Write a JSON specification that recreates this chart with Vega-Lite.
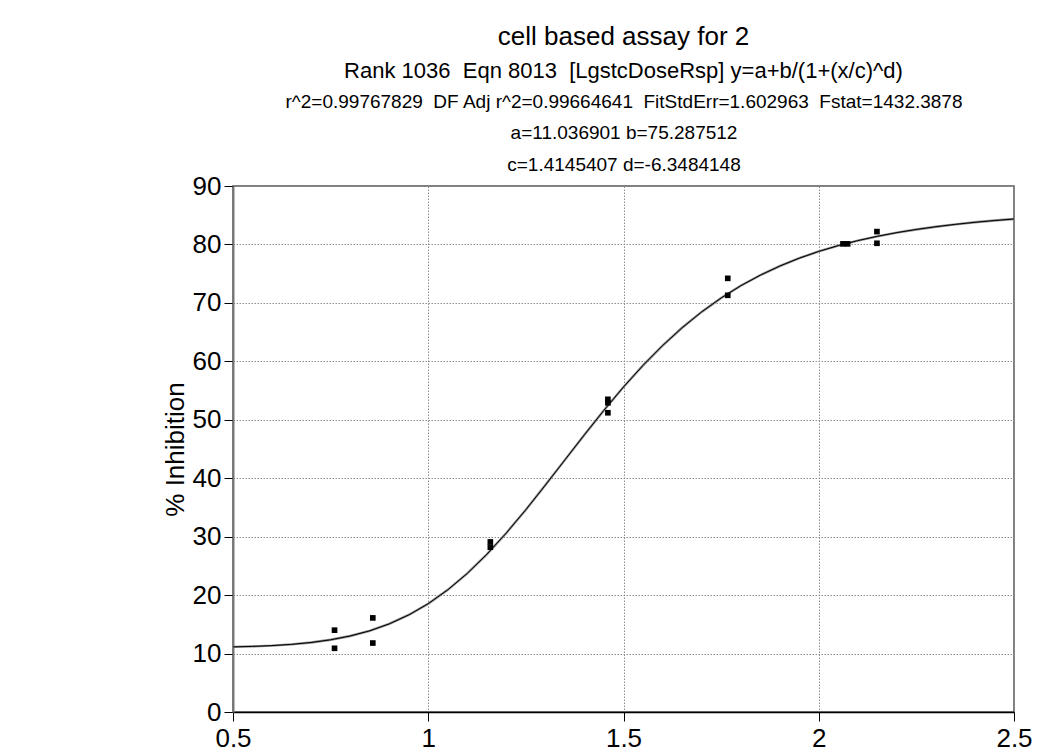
{
  "$schema": "https://vega.github.io/schema/vega-lite/v6.json",
  "width": 781,
  "height": 526,
  "autosize": {"type": "none"},
  "padding": {"left": 233, "top": 186, "right": 44, "bottom": 37},
  "background": "white",
  "config": {
    "font": "Liberation Sans",
    "view": {"stroke": "#555", "strokeWidth": 1.5}
  },
  "title": {
    "text": "cell based assay for 2",
    "subtitle": "Rank 1036\u00a0 Eqn 8013\u00a0 [LgstcDoseRsp] y=a+b/(1+(x/c)^d)",
    "fontSize": 26,
    "subtitleFontSize": 22,
    "fontWeight": "normal",
    "font": "Liberation Sans",
    "subtitleFont": "Liberation Sans",
    "color": "black",
    "subtitleColor": "black",
    "anchor": "middle",
    "offset": 10,
    "subtitlePadding": 11
  },
  "datasets": {
    "curve": [
      {"x": 0.5, "y": 11.139}, {"x": 0.55, "y": 11.224}, {"x": 0.6, "y": 11.361}, {"x": 0.65, "y": 11.574},
      {"x": 0.7, "y": 11.892}, {"x": 0.75, "y": 12.354}, {"x": 0.8, "y": 13.004}, {"x": 0.85, "y": 13.892},
      {"x": 0.9, "y": 15.074}, {"x": 0.95, "y": 16.606}, {"x": 1.0, "y": 18.536}, {"x": 1.05, "y": 20.902},
      {"x": 1.1, "y": 23.72}, {"x": 1.15, "y": 26.979}, {"x": 1.2, "y": 30.637}, {"x": 1.25, "y": 34.62},
      {"x": 1.3, "y": 38.826}, {"x": 1.35, "y": 43.141}, {"x": 1.4, "y": 47.446}, {"x": 1.45, "y": 51.633},
      {"x": 1.5, "y": 55.61}, {"x": 1.55, "y": 59.311}, {"x": 1.6, "y": 62.695}, {"x": 1.65, "y": 65.741},
      {"x": 1.7, "y": 68.451}, {"x": 1.75, "y": 70.837}, {"x": 1.8, "y": 72.922}, {"x": 1.85, "y": 74.733},
      {"x": 1.9, "y": 76.297}, {"x": 1.95, "y": 77.646}, {"x": 2.0, "y": 78.806}, {"x": 2.05, "y": 79.802},
      {"x": 2.1, "y": 80.658}, {"x": 2.15, "y": 81.392}, {"x": 2.2, "y": 82.024}, {"x": 2.25, "y": 82.567},
      {"x": 2.3, "y": 83.035}, {"x": 2.35, "y": 83.439}, {"x": 2.4, "y": 83.788}, {"x": 2.45, "y": 84.09},
      {"x": 2.5, "y": 84.352}
    ],
    "points": [
      {"x": 0.76, "y": 14.0}, {"x": 0.76, "y": 10.9},
      {"x": 0.858, "y": 16.1}, {"x": 0.858, "y": 11.8},
      {"x": 1.159, "y": 29.1}, {"x": 1.159, "y": 28.2},
      {"x": 1.46, "y": 53.5}, {"x": 1.46, "y": 52.9}, {"x": 1.46, "y": 51.2},
      {"x": 1.767, "y": 74.2}, {"x": 1.767, "y": 71.3},
      {"x": 2.062, "y": 80.1}, {"x": 2.074, "y": 80.1},
      {"x": 2.149, "y": 82.2}, {"x": 2.149, "y": 80.2}
    ]
  },
  "layer": [
    {
      "data": {"name": "curve"},
      "mark": {"type": "line", "color": "#8a8a8a", "strokeWidth": 2.4, "clip": true},
      "encoding": {
        "x": {
          "field": "x", "type": "quantitative",
          "scale": {"domain": [0.5, 2.5], "nice": false, "zero": false},
          "axis": {
            "orient": "bottom",
            "values": [0.5, 1, 1.5, 2, 2.5],
            "labelExpr": "datum.value + ''",
            "title": null,
            "labelFontSize": 26,
            "labelColor": "black",
            "labelPadding": 4,
            "labelFlush": false,
            "tickSize": 9,
            "tickColor": "black",
            "domainColor": "black",
            "domainWidth": 1.5,
            "grid": true,
            "gridColor": "#8c8c8c",
            "gridDash": [1.5, 1.5],
            "gridWidth": 1
          }
        },
        "y": {
          "field": "y", "type": "quantitative",
          "scale": {"domain": [0, 90], "nice": false, "zero": false},
          "axis": {
            "values": [0, 10, 20, 30, 40, 50, 60, 70, 80, 90],
            "title": "% Inhibition",
            "titleFontSize": 26,
            "titleFontWeight": "normal",
            "titleColor": "black",
            "titlePadding": 4,
            "labelFontSize": 26,
            "labelColor": "black",
            "labelPadding": 3,
            "tickSize": 9,
            "tickColor": "black",
            "domainColor": "#777",
            "domainWidth": 2,
            "grid": true,
            "gridColor": "#8c8c8c",
            "gridDash": [1.5, 1.5],
            "gridWidth": 1
          }
        }
      }
    },
    {
      "data": {"name": "curve"},
      "mark": {"type": "line", "color": "black", "strokeWidth": 1, "clip": true},
      "encoding": {
        "x": {
          "field": "x", "type": "quantitative",
          "axis": {
            "orient": "top",
            "domain": false,
            "ticks": false,
            "labels": false,
            "grid": false,
            "title": [
              "r^2=0.99767829\u00a0 DF Adj r^2=0.99664641\u00a0 FitStdErr=1.602963\u00a0 Fstat=1432.3878",
              "a=11.036901 b=75.287512",
              "c=1.4145407 d=-6.3484148"
            ],
            "titleFontSize": 19,
            "titleFontWeight": "normal",
            "titleColor": "black",
            "titleLineHeight": 31.5,
            "titlePadding": 12
          }
        },
        "y": {"field": "y", "type": "quantitative"}
      }
    },
    {
      "data": {"name": "points"},
      "mark": {"type": "square", "filled": true, "color": "black", "size": 32, "opacity": 1},
      "encoding": {
        "x": {"field": "x", "type": "quantitative", "axis": null},
        "y": {"field": "y", "type": "quantitative"}
      }
    }
  ],
  "resolve": {"axis": {"x": "independent"}}
}
